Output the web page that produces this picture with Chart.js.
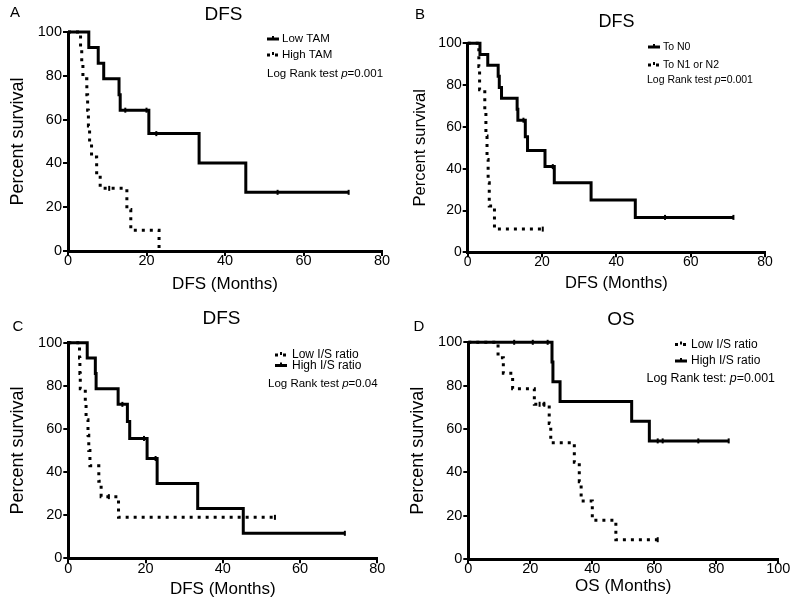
<!DOCTYPE html>
<html>
<head>
<meta charset="utf-8">
<script src="https://cdn.jsdelivr.net/npm/chart.js@4.4.0/dist/chart.umd.min.js"></script>
<style>
  html, body { margin: 0; padding: 0; background: #fff; }
  #wrap { position: relative; width: 800px; height: 608px; }
  canvas { position: absolute; }
</style>
</head>
<body>
<div id="wrap">
  <canvas id="chartA" width="400" height="300" style="left:0;top:0"></canvas>
  <canvas id="chartB" width="400" height="300" style="left:400px;top:0"></canvas>
  <canvas id="chartC" width="400" height="308" style="left:0;top:300px"></canvas>
  <canvas id="chartD" width="400" height="308" style="left:400px;top:300px"></canvas>
</div>
<script>
var FONT = '"Liberation Sans", Arial, Helvetica, sans-serif';
Chart.defaults.font.family = FONT;
Chart.defaults.color = '#000';

// ---- A: DFS by TAM ----
var aLowTime   = [0, 5.3, 7.7, 9.1, 13.0, 13.3, 20.6, 33.4, 45.3, 71.5];
var aLowSurv   = [100, 92.9, 85.7, 78.6, 71.4, 64.3, 53.6, 40.2, 26.8, 26.8];
var aLowCensor = [14.6, 20.0, 22.5, 53.4, 71.5];
var aHighTime   = [0, 3.2, 3.5, 3.8, 4.8, 5.0, 5.2, 5.5, 6.0, 7.3, 8.2, 15.0, 16.0, 23.2];
var aHighSurv   = [100, 92.9, 85.7, 78.6, 71.4, 64.3, 57.1, 50.0, 42.9, 35.7, 28.6, 19.0, 9.5, 0];
var aHighCensor = [10.5];

// ---- B: DFS by nodal status ----
var bN0Time   = [0, 3.3, 5.4, 8.2, 8.5, 9.1, 13.3, 13.5, 15.5, 16.1, 20.8, 23.3, 33.2, 45.1, 71.5];
var bN0Surv   = [100, 94.7, 89.5, 84.2, 78.9, 73.7, 68.4, 63.2, 55.3, 48.7, 41.0, 33.3, 25.0, 16.7, 16.7];
var bN0Censor = [15.0, 22.9, 53.1, 71.5];
var bN12Time   = [0, 3.0, 3.2, 4.6, 4.9, 5.2, 5.5, 5.8, 7.2, 20.2];
var bN12Surv   = [100, 88.9, 77.8, 66.7, 55.6, 44.4, 33.3, 22.2, 11.1, 11.1];
var bN12Censor = [20.2];

// ---- C: DFS by I/S ratio ----
var cLowTime   = [0, 2.9, 3.0, 3.1, 4.4, 4.6, 5.1, 5.3, 5.6, 7.9, 8.5, 13.0, 53.5];
var cLowSurv   = [100, 92.9, 85.7, 78.6, 71.4, 64.3, 57.1, 50.0, 42.9, 35.7, 28.6, 19.0, 19.0];
var cLowCensor = [10.5, 53.5];
var cHighTime   = [0, 4.9, 7.0, 7.2, 12.9, 15.3, 15.9, 20.4, 23.0, 33.5, 45.3, 71.6];
var cHighSurv   = [100, 92.9, 85.7, 78.6, 71.4, 63.5, 55.6, 46.3, 34.7, 23.1, 11.6, 11.6];
var cHighCensor = [14.0, 19.6, 22.6, 71.6];

// ---- D: OS by I/S ratio ----
var dLowTime   = [0, 9.6, 11.3, 14.3, 21.3, 26.1, 26.6, 34.2, 35.8, 36.4, 40.0, 47.6, 61.1];
var dLowSurv   = [100, 92.9, 85.7, 78.6, 71.4, 62.5, 53.6, 44.6, 35.7, 26.8, 17.9, 8.9, 8.9];
var dLowCensor = [23.0, 24.5, 61.1];
var dHighTime   = [0, 27.0, 27.3, 29.6, 52.7, 58.4, 84.0];
var dHighSurv   = [100, 90.9, 81.8, 72.7, 63.6, 54.5, 54.5];
var dHighCensor = [14.8, 20.8, 25.6, 61.1, 62.7, 74.2, 84.0];

var yTicks = [0, 20, 40, 60, 80, 100];

function survAt(times, surv, t)
{
  var s = surv[0];
  for (var i = 0; i < times.length; i++)
  {
    if (times[i] <= t) s = surv[i];
  }
  return s;
}

function curve(times, surv)
{
  return times.map(function(t, i) { return {x: t, y: surv[i]}; });
}

// draws panel letter, title, legend and log-rank text
var panelText = {
  id: 'panelText',
  afterDraw: function(chart, args, o)
  {
    var ctx = chart.ctx;
    ctx.save();
    ctx.fillStyle = '#000';
    ctx.strokeStyle = '#000';
    ctx.textBaseline = 'middle';
    ctx.textAlign = 'center';
    ctx.font = o.letterSize + 'px ' + FONT;
    ctx.fillText(o.letter, o.letterX, o.letterY);
    ctx.font = o.titleSize + 'px ' + FONT;
    ctx.fillText(o.title, o.titleX, o.titleY);

    ctx.textAlign = 'left';
    ctx.font = o.legendSize + 'px ' + FONT;
    var row = 0;
    chart.data.datasets.forEach(function(ds) {
      if (!ds.kmCurve) return;
      var y = o.legendY[row];
      ctx.lineWidth = 3;
      ctx.setLineDash(ds.borderDash);
      ctx.beginPath();
      ctx.moveTo(o.sampleX, y);
      ctx.lineTo(o.sampleX + 12, y);
      ctx.stroke();
      ctx.setLineDash([]);
      ctx.lineWidth = 2;
      ctx.beginPath();
      ctx.moveTo(o.sampleX + 6, y - 3);
      ctx.lineTo(o.sampleX + 6, y);
      ctx.stroke();
      ctx.fillText(ds.label, o.legendTextX, y);
      row++;
    });

    var x = o.pX;
    ctx.font = o.pSize + 'px ' + FONT;
    ctx.fillText(o.pPrefix, x, o.pY);
    x += ctx.measureText(o.pPrefix).width;
    ctx.font = 'italic ' + o.pSize + 'px ' + FONT;
    ctx.fillText('p', x, o.pY);
    x += ctx.measureText('p').width;
    ctx.font = o.pSize + 'px ' + FONT;
    ctx.fillText(o.pValue, x, o.pY);
    ctx.restore();
  }
};

function makePanel(canvasId, series, xMax, xLabel, lay, txt)
{
  var datasets = [];
  series.forEach(function(s) {
    datasets.push({
      label: s.label,
      kmCurve: true,
      data: curve(s.times, s.surv),
      showLine: true,
      stepped: true,
      borderColor: '#000',
      borderWidth: 3,
      borderDash: s.dashed ? [3, 5] : [],
      borderCapStyle: 'butt',
      pointRadius: 0,
      fill: false,
      clip: false
    });
  });
  series.forEach(function(s) {
    datasets.push({
      label: s.label + ' censored',
      data: s.censor.map(function(t) { return {x: t, y: survAt(s.times, s.surv, t)}; }),
      showLine: false,
      pointStyle: 'line',
      rotation: 90,
      pointRadius: 2.5,
      pointBorderWidth: 2,
      pointBorderColor: '#000',
      pointBackgroundColor: '#000',
      clip: false
    });
  });

  return new Chart(document.getElementById(canvasId), {
    type: 'scatter',
    data: { datasets: datasets },
    plugins: [panelText],
    options: {
      responsive: false,
      animation: false,
      events: [],
      layout: { padding: { left: 0, top: lay.top, right: lay.w - lay.right, bottom: 0 } },
      plugins: {
        legend: { display: false },
        tooltip: { enabled: false },
        panelText: txt
      },
      scales: {
        x: {
          type: 'linear', min: 0, max: xMax,
          ticks: { stepSize: 20, font: { size: lay.tickSize, lineHeight: 1 }, padding: -2, color: '#000' },
          grid: { drawOnChartArea: false, tickLength: 5, color: '#000', lineWidth: 2 },
          border: { color: '#000', width: 3 },
          title: { display: true, text: xLabel, color: '#000',
                   font: { size: lay.titleFont }, padding: { top: 0, bottom: lay.xTitlePad } },
          afterFit: function(s) { s.height = lay.h - lay.bottom; s.paddingLeft = 0; s.paddingRight = 0; }
        },
        y: {
          type: 'linear', min: 0, max: 100,
          afterBuildTicks: function(s) { s.ticks = yTicks.map(function(v) { return {value: v}; }); },
          ticks: { font: { size: lay.tickSize }, padding: 1, color: '#000' },
          grid: { drawOnChartArea: false, tickLength: 5, color: '#000', lineWidth: 2 },
          border: { color: '#000', width: 3 },
          title: { display: true, text: 'Percent survival', color: '#000',
                   font: { size: lay.yTitleFont }, padding: { top: lay.yTitlePad, bottom: 0 } },
          afterFit: function(s) { s.width = lay.left; s.paddingTop = 0; s.paddingBottom = 0; }
        }
      }
    }
  });
}

makePanel('chartA', [
  { label: 'Low TAM', times: aLowTime, surv: aLowSurv, censor: aLowCensor, dashed: false },
  { label: 'High TAM', times: aHighTime, surv: aHighSurv, censor: aHighCensor, dashed: true }
], 80, 'DFS (Months)',
  { w: 400, h: 300, left: 68, right: 382, top: 32, bottom: 251, tickSize: 14.5,
    titleFont: 17, xTitlePad: 5, yTitleFont: 18, yTitlePad: 7 },
  { letter: 'A', letterX: 15, letterY: 13, letterSize: 15,
    title: 'DFS', titleX: 223.5, titleY: 15, titleSize: 19,
    legendY: [39, 55], sampleX: 267, legendTextX: 282, legendSize: 11.5,
    pPrefix: 'Log Rank test ', pValue: '=0.001', pX: 267, pY: 74, pSize: 11.5 });

makePanel('chartB', [
  { label: 'To N0', times: bN0Time, surv: bN0Surv, censor: bN0Censor, dashed: false },
  { label: 'To N1 or N2', times: bN12Time, surv: bN12Surv, censor: bN12Censor, dashed: true }
], 80, 'DFS (Months)',
  { w: 400, h: 300, left: 67.7, right: 365, top: 43.3, bottom: 252.3, tickSize: 14,
    titleFont: 16.5, xTitlePad: 7, yTitleFont: 16.5, yTitlePad: 11 },
  { letter: 'B', letterX: 20, letterY: 15, letterSize: 15,
    title: 'DFS', titleX: 216.5, titleY: 22, titleSize: 18,
    legendY: [47, 65], sampleX: 248, legendTextX: 263, legendSize: 10.5,
    pPrefix: 'Log Rank test ', pValue: '=0.001', pX: 247, pY: 80, pSize: 10.5 });

makePanel('chartC', [
  { label: 'Low I/S ratio', times: cLowTime, surv: cLowSurv, censor: cLowCensor, dashed: true },
  { label: 'High I/S ratio', times: cHighTime, surv: cHighSurv, censor: cHighCensor, dashed: false }
], 80, 'DFS (Months)',
  { w: 400, h: 308, left: 68.3, right: 377.3, top: 42.7, bottom: 258.3, tickSize: 14.5,
    titleFont: 17, xTitlePad: 8, yTitleFont: 18, yTitlePad: 7.5 },
  { letter: 'C', letterX: 18, letterY: 26.5, letterSize: 15,
    title: 'DFS', titleX: 221.5, titleY: 19, titleSize: 19,
    legendY: [55, 65.5], sampleX: 275, legendTextX: 292, legendSize: 12,
    pPrefix: 'Log Rank test ', pValue: '=0.04', pX: 268, pY: 83.5, pSize: 11.5 });

makePanel('chartD', [
  { label: 'Low I/S ratio', times: dLowTime, surv: dLowSurv, censor: dLowCensor, dashed: true },
  { label: 'High I/S ratio', times: dHighTime, surv: dHighSurv, censor: dHighCensor, dashed: false }
], 100, 'OS (Months)',
  { w: 400, h: 308, left: 68.3, right: 378.3, top: 42.3, bottom: 259, tickSize: 14.5,
    titleFont: 17, xTitlePad: 11, yTitleFont: 18, yTitlePad: 7 },
  { letter: 'D', letterX: 19, letterY: 27, letterSize: 15,
    title: 'OS', titleX: 221, titleY: 20, titleSize: 19,
    legendY: [44.5, 61], sampleX: 275, legendTextX: 291, legendSize: 12,
    pPrefix: 'Log Rank test: ', pValue: '=0.001', pX: 246.5, pY: 79, pSize: 12.4 });
</script>
</body>
</html>
